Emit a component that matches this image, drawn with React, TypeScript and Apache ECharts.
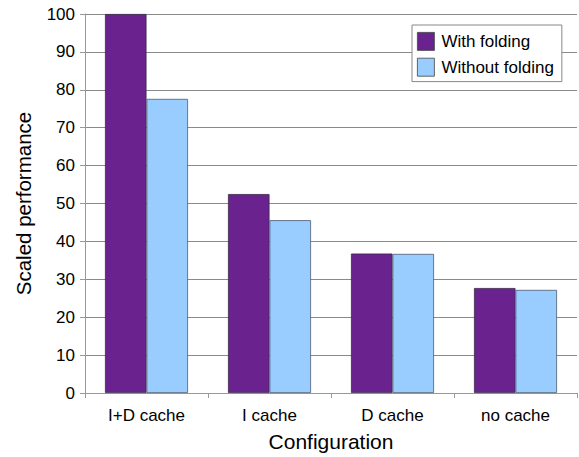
import React, { useEffect, useRef } from "react";
import * as echarts from "echarts";

const categories = ["I+D cache", "I cache", "D cache", "no cache"];
const withFolding = [100, 52.5, 36.8, 27.7];
const withoutFolding = [77.6, 45.6, 36.7, 27.2];
const seriesNames = ["With folding", "Without folding"];

export default function App() {
  const ref = useRef<HTMLDivElement>(null);
  useEffect(() => {
    document.body.style.margin = "0";
    const chart = echarts.init(ref.current!, null, { renderer: "svg" });
    const font = "Liberation Sans";
    chart.setOption({
      animation: false,
      backgroundColor: "#ffffff",
      grid: { left: 85, right: 2, top: 14, bottom: 64, containLabel: false },
      legend: {
        orient: "vertical",
        left: 412,
        top: 25,
        padding: [7, 8, 5, 5],
        itemGap: 7,
        itemWidth: 17,
        itemHeight: 18,
        backgroundColor: "#ffffff",
        borderColor: "#888888",
        borderWidth: 1,
        borderRadius: 0,
        icon: "rect",
        itemStyle: { borderColor: "#444444", borderWidth: 0.8 },
        textStyle: { fontFamily: font, fontSize: 17, color: "#000", padding: [0, 0, 0, 2] },
        data: seriesNames,
      },
      xAxis: {
        type: "category",
        data: categories,
        name: "Configuration",
        nameLocation: "middle",
        nameGap: 38,
        nameTextStyle: { fontFamily: font, fontSize: 21, color: "#000" },
        axisLine: { lineStyle: { color: "#999999", width: 1 } },
        axisTick: { show: true, length: 5, lineStyle: { color: "#999999" } },
        axisLabel: { fontFamily: font, fontSize: 17, color: "#000", margin: 14 },
        splitLine: { show: false },
      },
      yAxis: {
        type: "value",
        min: 0,
        max: 100,
        interval: 10,
        name: "Scaled performance",
        nameLocation: "middle",
        nameGap: 51,
        nameTextStyle: { fontFamily: font, fontSize: 20.5, color: "#000" },
        axisLine: { show: true, lineStyle: { color: "#999999", width: 1 } },
        axisTick: { show: true, length: 5, lineStyle: { color: "#999999" } },
        axisLabel: { fontFamily: font, fontSize: 17, color: "#000", margin: 10 },
        splitLine: { show: true, lineStyle: { color: "#8a8a8a", width: 1 } },
      },
      series: [
        {
          name: seriesNames[0],
          type: "bar",
          data: withFolding,
          barGap: "0%",
          barCategoryGap: "32.5%",
          itemStyle: { color: "#6a228f", borderColor: "#3a2a4a", borderWidth: 0.8 },
        },
        {
          name: seriesNames[1],
          type: "bar",
          data: withoutFolding,
          barGap: "0%",
          barCategoryGap: "32.5%",
          itemStyle: { color: "#99ccff", borderColor: "#4a5a70", borderWidth: 0.8 },
        },
      ],
    });
    return () => chart.dispose();
  }, []);
  return <div ref={ref} style={{ width: 579, height: 457 }} />;
}
